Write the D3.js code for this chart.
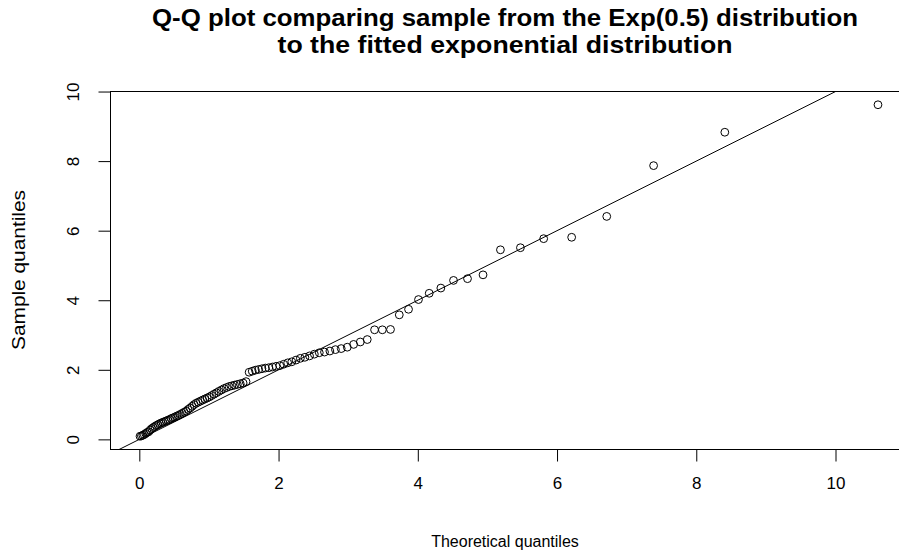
<!DOCTYPE html>
<html>
<head>
<meta charset="utf-8">
<script src="https://cdn.jsdelivr.net/npm/d3@7"></script>
<style>
  html, body { margin: 0; padding: 0; background: #fff; }
  svg { display: block; font-family: "Liberation Sans", Arial, sans-serif; }
</style>
</head>
<body>
<svg id="chart" width="899" height="556"></svg>
<script>
// Theoretical quantiles of the fitted exponential distribution
const theoretical = [
  0.010, 0.030, 0.051, 0.071, 0.092, 0.113, 0.135, 0.156, 0.178, 0.200,
  0.222, 0.245, 0.267, 0.290, 0.314, 0.337, 0.361, 0.385, 0.410, 0.434,
  0.459, 0.485, 0.510, 0.537, 0.563, 0.590, 0.617, 0.644, 0.672, 0.700,
  0.729, 0.758, 0.787, 0.817, 0.847, 0.878, 0.909, 0.941, 0.974, 1.006,
  1.040, 1.074, 1.108, 1.143, 1.179, 1.216, 1.253, 1.290, 1.329, 1.368,
  1.408, 1.449, 1.491, 1.533, 1.577, 1.622, 1.667, 1.714, 1.761, 1.810,
  1.860, 1.912, 1.964, 2.018, 2.074, 2.131, 2.190, 2.251, 2.313, 2.378,
  2.445, 2.514, 2.585, 2.660, 2.737, 2.817, 2.900, 2.987, 3.078, 3.174,
  3.274, 3.379, 3.491, 3.608, 3.734, 3.867, 4.010, 4.164, 4.331, 4.513,
  4.714, 4.937, 5.187, 5.474, 5.808, 6.210, 6.714, 7.387, 8.410, 10.610
];
// Sorted sample values
const sample = [
  0.09, 0.10, 0.12, 0.14, 0.17, 0.20, 0.22, 0.27, 0.31, 0.34,
  0.37, 0.40, 0.42, 0.45, 0.47, 0.49, 0.51, 0.53, 0.55, 0.57,
  0.60, 0.62, 0.64, 0.67, 0.69, 0.72, 0.75, 0.78, 0.81, 0.86,
  0.90, 0.95, 1.00, 1.04, 1.07, 1.10, 1.13, 1.16, 1.19, 1.22,
  1.26, 1.30, 1.34, 1.38, 1.42, 1.46, 1.49, 1.52, 1.54, 1.56,
  1.58, 1.60, 1.62, 1.66, 1.93, 1.96, 1.99, 2.01, 2.03, 2.05,
  2.06, 2.08, 2.10, 2.12, 2.16, 2.20, 2.23, 2.28, 2.33, 2.36,
  2.40, 2.45, 2.49, 2.51, 2.54, 2.58, 2.61, 2.65, 2.73, 2.80,
  2.87, 3.15, 3.15, 3.16, 3.58, 3.74, 4.02, 4.20, 4.35, 4.57,
  4.62, 4.73, 5.45, 5.51, 5.77, 5.81, 6.41, 7.87, 8.83, 9.62
];
const xTicks = [0, 2, 4, 6, 8, 10];
const yTicks = [0, 2, 4, 6, 8, 10];
const refLine = [[-5, -5], [15, 15]]; // y = x reference line
const titleLines = [
  "Q-Q plot comparing sample from the Exp(0.5) distribution",
  "to the fitted exponential distribution"
];
const xLabel = "Theoretical quantiles";
const yLabel = "Sample quantiles";

const svg = d3.select("#chart");
const box = { left: 110.5, right: 907.5, top: 91.5, bottom: 449.5 };

function rExtent(arr) {
  const [a, b] = d3.extent(arr);
  const e = (b - a) * 0.04;
  return [a - e, b + e];
}
const x = d3.scaleLinear().domain(rExtent(theoretical)).range([box.left, box.right]);
const y = d3.scaleLinear().domain(rExtent(sample)).range([box.bottom, box.top]);

svg.append("defs").append("clipPath").attr("id", "clip")
  .append("rect")
  .attr("x", box.left).attr("y", box.top)
  .attr("width", box.right - box.left).attr("height", box.bottom - box.top);

// reference line
svg.append("path")
  .attr("clip-path", "url(#clip)")
  .attr("d", d3.line().x(d => x(d[0])).y(d => y(d[1]))(refLine))
  .attr("fill", "none").attr("stroke", "#000").attr("stroke-width", 1);

// points
svg.append("g").selectAll("circle")
  .data(theoretical.map((t, i) => [t, sample[i]]))
  .join("circle")
  .attr("cx", d => x(d[0]))
  .attr("cy", d => y(d[1]))
  .attr("r", 3.9)
  .attr("fill", "none")
  .attr("stroke", "#000")
  .attr("stroke-width", 1);

// box
svg.append("rect")
  .attr("x", box.left).attr("y", box.top)
  .attr("width", box.right - box.left).attr("height", box.bottom - box.top)
  .attr("fill", "none").attr("stroke", "#000").attr("stroke-width", 1);

// axes
const xAxis = d3.axisBottom(x).tickValues(xTicks).tickSize(12).tickPadding(15).tickFormat(d3.format("d"));
const gx = svg.append("g").attr("transform", `translate(0,${box.bottom})`).call(xAxis);
gx.select(".domain").remove();
gx.selectAll("text").attr("font-size", 17).attr("fill", "#000").attr("font-family", "Liberation Sans, Arial, sans-serif");
gx.selectAll("line").attr("stroke", "#000");

const yAxis = d3.axisLeft(y).tickValues(yTicks).tickSize(12).tickPadding(0).tickFormat(d3.format("d"));
const gy = svg.append("g").attr("transform", `translate(${box.left},0)`).call(yAxis);
gy.select(".domain").remove();
gy.selectAll("line").attr("stroke", "#000");
gy.selectAll("text")
  .attr("font-size", 17).attr("fill", "#000")
  .attr("font-family", "Liberation Sans, Arial, sans-serif")
  .attr("x", null).attr("y", null).attr("dy", null)
  .attr("text-anchor", "middle")
  .attr("transform", `translate(${79 - box.left},0) rotate(-90)`);

// title
const titleLengths = [706, 455];
svg.append("g").selectAll("text")
  .data(titleLines)
  .join("text")
  .attr("x", 505)
  .attr("y", (d, i) => 26 + i * 27)
  .attr("text-anchor", "middle")
  .attr("font-weight", "bold")
  .attr("font-size", 24)
  .attr("textLength", (d, i) => titleLengths[i])
  .attr("lengthAdjust", "spacingAndGlyphs")
  .attr("fill", "#000")
  .text(d => d);

// axis labels
svg.append("text")
  .attr("x", 505).attr("y", 547)
  .attr("text-anchor", "middle")
  .attr("font-size", 16).attr("fill", "#000")
  .text(xLabel);
svg.append("text")
  .attr("transform", `translate(25,270) rotate(-90)`)
  .attr("text-anchor", "middle")
  .attr("font-size", 19)
  .attr("textLength", 160).attr("lengthAdjust", "spacingAndGlyphs")
  .attr("fill", "#000")
  .text(yLabel);
</script>
</body>
</html>
